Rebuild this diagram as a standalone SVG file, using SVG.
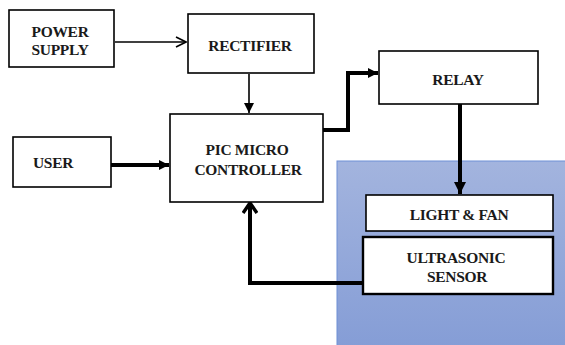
<svg xmlns="http://www.w3.org/2000/svg" width="565" height="345" viewBox="0 0 565 345" font-family="'Liberation Serif', 'Times New Roman', serif">
<defs>
<linearGradient id="bg" x1="0" y1="0" x2="0" y2="1">
<stop offset="0" stop-color="#a3b4de"/>
<stop offset="1" stop-color="#859dd6"/>
</linearGradient>
<marker id="open" markerWidth="12" markerHeight="12" refX="11" refY="6" orient="auto" markerUnits="userSpaceOnUse">
<path d="M1,1 L11,6 L1,11" fill="none" stroke="#000" stroke-width="1.6"/>
</marker>
<marker id="fill" markerWidth="12" markerHeight="12" refX="10" refY="6" orient="auto" markerUnits="userSpaceOnUse">
<path d="M0,1 L10,6 L0,11 Z" fill="#000"/>
</marker>
<marker id="fillT" markerWidth="14" markerHeight="14" refX="12" refY="7" orient="auto" markerUnits="userSpaceOnUse">
<path d="M0,1 L12,7 L0,13 Z" fill="#000"/>
</marker>
<marker id="chev" markerWidth="14" markerHeight="16" refX="12" refY="8" orient="auto" markerUnits="userSpaceOnUse">
<path d="M2,1 L12,8 L2,15" fill="none" stroke="#000" stroke-width="3.5" stroke-linejoin="round"/>
</marker>
</defs>
<style>
.box{fill:#fff;stroke:#000;stroke-width:1.6}
.thick{stroke-width:2.4}
.t{font-family:'Liberation Serif','Times New Roman',serif;font-weight:bold;font-size:15.5px;fill:#1a1a1a;text-anchor:middle;letter-spacing:-0.3px}
.c{fill:none;stroke:#000}
</style>
<rect id="bgpanel" x="337" y="161" width="230" height="186" fill="url(#bg)" stroke="#6f8fd6" stroke-width="1"/>
<g id="connectors">
<line class="c" x1="115" y1="42" x2="186" y2="42" stroke-width="1.6" marker-end="url(#open)"/>
<line class="c" x1="249" y1="74" x2="249" y2="113" stroke-width="1.6" marker-end="url(#fill)"/>
<line class="c" x1="111" y1="165" x2="169" y2="165" stroke-width="4" marker-end="url(#fill)"/>
<polyline class="c" points="323,130 348,130 348,73 378,73" stroke-width="4" marker-end="url(#fill)"/>
<line class="c" x1="460" y1="104" x2="460" y2="194" stroke-width="4" marker-end="url(#fillT)"/>
<polyline class="c" points="363,283 250,283 250,203" stroke-width="4" marker-end="url(#chev)"/>
</g>
<g id="power-supply">
<rect class="box" x="9" y="10" width="105" height="57"/>
<text class="t" x="60" y="37">POWER</text>
<text class="t" x="60" y="55">SUPPLY</text>
</g>
<g id="rectifier">
<rect class="box" x="188" y="14" width="126" height="59"/>
<text class="t" x="250" y="51">RECTIFIER</text>
</g>
<g id="pic">
<rect class="box" x="170" y="114" width="153" height="88"/>
<text class="t" x="247" y="155">PIC MICRO</text>
<text class="t" x="248" y="175">CONTROLLER</text>
</g>
<g id="user">
<rect class="box" x="13" y="137" width="98" height="50"/>
<text class="t" x="53" y="168">USER</text>
</g>
<g id="relay">
<rect class="box" x="379" y="51" width="159" height="53"/>
<text class="t" x="458" y="85">RELAY</text>
</g>
<g id="light-fan">
<rect class="box" x="366" y="195" width="187" height="36"/>
<text class="t" x="459" y="220">LIGHT &amp; FAN</text>
</g>
<g id="ultrasonic">
<rect class="box thick" x="363" y="237" width="190" height="57"/>
<text class="t" x="456" y="263">ULTRASONIC</text>
<text class="t" x="457" y="282">SENSOR</text>
</g>
</svg>
